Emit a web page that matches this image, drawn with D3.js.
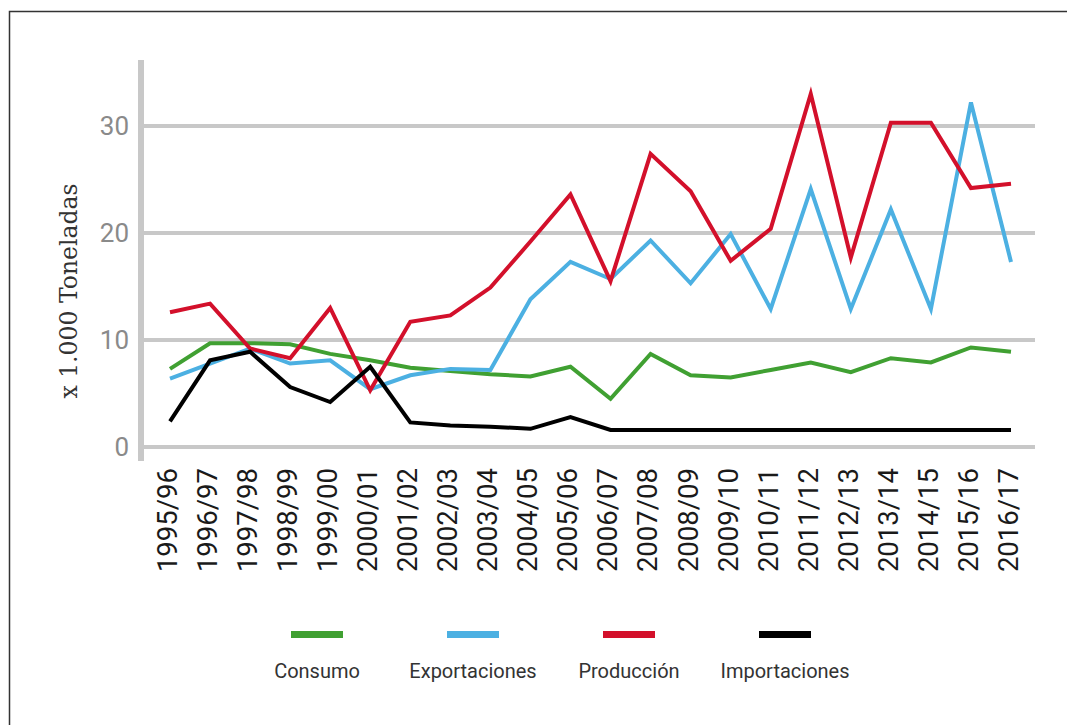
<!DOCTYPE html>
<html>
<head>
<meta charset="utf-8">
<script src="https://cdn.jsdelivr.net/npm/d3@7"></script>
<style>
  body { margin: 0; background: #fff; }
</style>
</head>
<body>
<figure id="chart" style="margin:0"></figure>
<script>
const campanias = ["1995/96", "1996/97", "1997/98", "1998/99", "1999/00", "2000/01", "2001/02",
  "2002/03", "2003/04", "2004/05", "2005/06", "2006/07", "2007/08", "2008/09", "2009/10",
  "2010/11", "2011/12", "2012/13", "2013/14", "2014/15", "2015/16", "2016/17"];

const consumo = [7.3, 9.7, 9.7, 9.6, 8.7, 8.1, 7.4, 7.1, 6.8, 6.6, 7.5, 4.5, 8.7, 6.7, 6.5, 7.2, 7.9, 7.0, 8.3, 7.9, 9.3, 8.9];
const exportaciones = [6.4, 7.8, 9.2, 7.8, 8.1, 5.4, 6.7, 7.3, 7.2, 13.8, 17.3, 15.7, 19.3, 15.3, 19.9, 12.9, 24.1, 12.9, 22.2, 12.9, 32.2, 17.3];
const produccion = [12.6, 13.4, 9.2, 8.3, 13.0, 5.3, 11.7, 12.3, 14.9, 19.2, 23.6, 15.5, 27.4, 23.9, 17.4, 20.4, 33.0, 17.7, 30.3, 30.3, 24.2, 24.6];
const importaciones = [2.4, 8.1, 8.9, 5.6, 4.2, 7.5, 2.3, 2.0, 1.9, 1.7, 2.8, 1.6, 1.6, 1.6, 1.6, 1.6, 1.6, 1.6, 1.6, 1.6, 1.6, 1.6];

const yTicks = [0, 10, 20, 30];

const series = [
  { name: "Consumo", values: consumo, color: "#40a032" },
  { name: "Exportaciones", values: exportaciones, color: "#4cb0e2" },
  { name: "Producción", values: produccion, color: "#d3102b" },
  { name: "Importaciones", values: importaciones, color: "#000000" }
];

const width = 1067;
const height = 725;

const svg = d3.select("figure#chart")
  .append("svg")
  .attr("width", width)
  .attr("height", height);

// marco
svg.append("rect")
  .attr("x", 9.5).attr("y", 11.5)
  .attr("width", 1070).attr("height", 730)
  .attr("fill", "none")
  .attr("stroke", "#333")
  .attr("stroke-width", 1.5);

const x = d3.scalePoint()
  .domain(campanias)
  .range([170, 1011]);

const y = d3.scaleLinear()
  .domain([0, 30])
  .range([447, 126]);

// grilla horizontal
svg.append("g")
  .selectAll("line")
  .data(yTicks)
  .enter()
  .append("line")
  .attr("x1", 141).attr("x2", 1035)
  .attr("y1", d => y(d)).attr("y2", d => y(d))
  .attr("stroke", "#c8c8c8")
  .attr("stroke-width", 4);

// eje vertical
svg.append("line")
  .attr("x1", 141).attr("x2", 141)
  .attr("y1", 60).attr("y2", 461)
  .attr("stroke", "#c8c8c8")
  .attr("stroke-width", 6);

// etiquetas eje y
svg.append("g")
  .selectAll("text")
  .data(yTicks)
  .enter()
  .append("text")
  .attr("x", 129)
  .attr("y", d => y(d))
  .attr("dy", "0.36em")
  .attr("text-anchor", "end")
  .style("font-family", "Roboto, sans-serif")
  .style("font-size", "26px")
  .attr("fill", "#8a8a8a")
  .text(d => d);

svg.append("text")
  .attr("transform", "translate(69,291) rotate(-90)")
  .attr("dy", "0.35em")
  .attr("text-anchor", "middle")
  .style("font-family", "'DejaVu Serif', serif")
  .style("font-size", "23.5px")
  .attr("fill", "#333")
  .text("x 1.000 Toneladas");

// etiquetas eje x
svg.append("g")
  .selectAll("text")
  .data(campanias)
  .enter()
  .append("text")
  .attr("transform", d => "translate(" + (x(d) - 3) + ",468) rotate(-90)")
  .attr("dy", "0.36em")
  .attr("text-anchor", "end")
  .style("font-family", "Roboto, sans-serif")
  .style("font-size", "27.5px")
  .attr("fill", "#1a1a1a")
  .text(d => d);

// lineas
const line = d3.line()
  .x((d, i) => x(campanias[i]))
  .y(d => y(d));

svg.append("g")
  .selectAll("path")
  .data(series)
  .enter()
  .append("path")
  .attr("d", d => line(d.values))
  .attr("fill", "none")
  .attr("stroke", d => d.color)
  .attr("stroke-width", 4)
  .attr("stroke-linejoin", "miter");

// leyenda
const legend = svg.append("g")
  .selectAll("g")
  .data(series)
  .enter()
  .append("g")
  .attr("transform", (d, i) => "translate(" + (317 + i * 156) + ",0)");

legend.append("rect")
  .attr("x", -26).attr("y", 631)
  .attr("width", 52).attr("height", 7)
  .attr("fill", d => d.color);

legend.append("text")
  .attr("y", 678)
  .attr("text-anchor", "middle")
  .style("font-family", "Roboto, sans-serif")
  .style("font-size", "20px")
  .attr("fill", "#333")
  .text(d => d.name);
</script>
</body>
</html>
